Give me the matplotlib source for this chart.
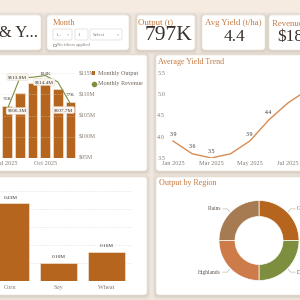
import matplotlib.pyplot as plt
from matplotlib.patches import FancyBboxPatch, Rectangle

plt.rcParams['font.family'] = ['Liberation Serif', 'DejaVu Serif']

# data
months = ['Jul 2025', 'Aug 2025', 'Sep 2025', 'Oct 2025', 'Nov 2025', 'Dec 2025']
output_k = [71, 89, 103, 104, 95, 77]
revenue_m = [106.3, 113.8, 114.0, 114.4, 112.9, 107.7]

yield_months = ['Jan 2025', 'Feb 2025', 'Mar 2025', 'Apr 2025', 'May 2025', 'Jun 2025', 'Jul 2025', 'Aug 2025']
avg_yield = [3.9, 3.6, 3.5, 3.6, 3.9, 4.4, 4.8, 5.1]
yield_labelled = [0, 1, 2, 4, 5]

crops = ['Corn', 'Soy', 'Wheat']
crop_output_m = [0.43, 0.10, 0.16]

regions = ['Coastal', 'Delta', 'Highlands', 'Plains']
region_share = [25, 25, 25, 25]

ORANGE = '#b5651d'
GREEN = '#7d8f3f'
ACCENT = '#c67a40'
GREY = '#857a72'
DARK = '#3a322e'

W = H = 300
fig = plt.figure(figsize=(3, 3), dpi=100)
fig.patch.set_facecolor('#eee7df')


def px_axes(x, y, w, h):
    return fig.add_axes([x / W, 1 - (y + h) / H, w / W, h / H])


bg = px_axes(0, 0, 300, 300)
bg.set_xlim(0, 300)
bg.set_ylim(300, 0)
bg.axis('off')
bg.add_patch(Rectangle((0, 0), 300, 12, color='#f6ebe0', lw=0))


def card(x, y, w, h):
    for i, a in enumerate([0.10, 0.07, 0.05]):
        p = 1 + i * 1.3
        bg.add_patch(FancyBboxPatch((x - p + 0.5, y - p + 1.5), w + 2 * p - 1, h + 2 * p - 1,
                                    boxstyle='round,pad=0,rounding_size=4',
                                    fc='#7a6550', ec='none', alpha=a))
    bg.add_patch(FancyBboxPatch((x, y), w, h, boxstyle='round,pad=0,rounding_size=3',
                                fc='white', ec='#efe6dc', lw=0.5))


for c in [(-10, 15, 51, 35), (47, 15, 82, 35), (137, 15, 58, 35), (202, 15, 63, 35),
          (269, 15, 45, 35), (-10, 55, 157, 116), (156, 55, 150, 116),
          (-10, 177, 157, 118), (156, 177, 150, 118)]:
    card(*c)

# KPI row
bg.text(38, 33, 'Harvest & Y...', ha='right', va='center', fontsize=12, color=DARK)

bg.text(53, 23, 'Month', fontsize=6, color=ACCENT, va='center')
for bx, bw, label, chevron in [(53, 19, '1...', True), (75, 13, '1', False), (90, 32, 'Select', True)]:
    bg.add_patch(FancyBboxPatch((bx, 29), bw, 11, boxstyle='round,pad=0,rounding_size=1.5',
                                fc='white', ec='#e2dbd4', lw=0.5))
    bg.text(bx + 3, 34.5, label, fontsize=3.5, color=GREY, va='center')
    if chevron:
        bg.text(bx + bw - 4, 34.5, 'v', fontsize=3.5, color='#b0a79f', va='center', ha='center')
bg.add_patch(Rectangle((53, 43.5), 2.5, 2.5, fc='white', ec=GREY, lw=0.4))
bg.text(57, 45, 'No filters applied', fontsize=3.3, color=GREY, va='center')

bg.text(138, 23, 'Output (t)', fontsize=6.3, color=ACCENT, va='center')
bg.text(145, 36, '797K', fontsize=15.5, color=DARK, va='center')
bg.text(205, 23, 'Avg Yield (t/ha)', fontsize=6.3, color=ACCENT, va='center')
bg.text(235, 37, '4.4', fontsize=12.5, color=DARK, va='center', ha='center')
bg.text(272, 23, 'Revenue ($)', fontsize=6.3, color=ACCENT, va='center')
bg.text(277, 37, '$18.2M', fontsize=12.5, color=DARK, va='center')

# monthly output and revenue
ax1 = px_axes(-12, 73, 88, 85)
x = range(len(months))
ax1.bar(x, output_k, width=0.75, color=ORANGE, edgecolor='#f4e4d4', lw=0.5, zorder=2)
ax1.set_xlim(-1.5, 5.43)
ax1.set_ylim(0, 117)
ax1.set_xticks([0, 3])
ax1.set_xticklabels([months[0], months[3]])
ax1.tick_params(axis='x', length=0, labelsize=4.5, labelcolor=GREY, pad=2)
ax1.set_yticks([])
ax2 = ax1.twinx()
ax2.plot(x, revenue_m, color=GREEN, lw=0.8, zorder=3)
ax2.set_ylim(95, 115)
ax2.set_yticks([95, 100, 105, 110, 115])
ax2.set_yticklabels(['$%dM' % v for v in [95, 100, 105, 110, 115]])
ax2.tick_params(axis='y', length=0, labelsize=4.2, labelcolor=GREY, pad=2)
ax2.grid(axis='y', ls=':', color='#e6ddd4', lw=0.4)
for ax in (ax1, ax2):
    ax.patch.set_alpha(0)
    for s in ax.spines.values():
        s.set_visible(False)

for i, dy in [(0, 7), (3, 8), (5, 7)]:
    ax1.annotate('%dK' % output_k[i], (i, output_k[i]), xytext=(0, dy * 0.72),
                 textcoords='offset points', ha='center', va='center', fontsize=3.8, color=DARK)
box = dict(boxstyle='round,pad=0.25', fc='#fbf6f0', ec='#e8dccf', lw=0.4)
for i, dx, dy in [(0, 10, 1), (1, -2, -1), (3, -1, 6.5), (5, -7, 6)]:
    ax2.annotate('$%.1fM' % revenue_m[i], (i, revenue_m[i]), xytext=(dx * 0.72, -dy * 0.72),
                 textcoords='offset points', ha='center', va='center', fontsize=3.8,
                 color=DARK, bbox=box, zorder=5)

bg.add_patch(Rectangle((92, 71.3), 3.4, 3.4, color=ORANGE, lw=0))
bg.text(97.5, 73, 'Monthly Output', fontsize=4.4, color='#6d625a', va='center')
bg.plot([93.7], [84], 'o', ms=3, color=GREEN)
bg.text(97.5, 84, 'Monthly Revenue', fontsize=4.4, color='#6d625a', va='center')

# average yield trend
bg.text(158, 62, 'Average Yield Trend', fontsize=5.8, color=ACCENT, va='center')
ay = px_axes(168, 73, 149, 85)
ay.patch.set_alpha(0)
ay.plot(range(len(avg_yield)), avg_yield, color='#d98c52', lw=1)
ay.set_xlim(-0.26, 7.5)
ay.set_ylim(3.5, 5.5)
ay.set_yticks([3.5, 4.0, 4.5, 5.0, 5.5])
ay.set_yticklabels(['3.5', '4.0', '4.5', '5.0', '5.5'])
ay.set_xticks([0, 2, 4, 6])
ay.set_xticklabels([yield_months[i] for i in [0, 2, 4, 6]])
ay.tick_params(length=0, labelsize=4.5, labelcolor=GREY, pad=2)
for s in ay.spines.values():
    s.set_visible(False)
for i in yield_labelled:
    ay.annotate('%.1f' % avg_yield[i], (i, avg_yield[i]), xytext=(0, 5),
                textcoords='offset points', ha='center', va='center', fontsize=4.2, color=DARK)

# output by crop
ac = px_axes(-13.5, 190.5, 144, 90.5)
ac.patch.set_alpha(0)
ac.bar(range(3), crop_output_m, width=0.77, color=ORANGE, edgecolor='#f4e4d4', lw=0.5, zorder=2)
ac.set_xlim(-0.5, 2.5)
ac.set_ylim(0, 0.5)
ac.set_yticks([0, 0.1, 0.2, 0.3, 0.4, 0.5])
ac.set_yticklabels([])
ac.grid(axis='y', ls=':', color='#dcd3ca', lw=0.5)
ac.set_xticks(range(3))
ac.set_xticklabels(crops)
ac.tick_params(length=0, labelsize=4.5, labelcolor=GREY, pad=3)
for s in ac.spines.values():
    s.set_visible(False)
for i, v in enumerate(crop_output_m):
    ac.annotate('%.2fM' % v, (i, v), xytext=(0, 4), textcoords='offset points',
                ha='center', va='center', fontsize=3.8, color=DARK)

# output by region
bg.text(159, 183, 'Output by Region', fontsize=5.8, color=ACCENT, va='center')
ad = px_axes(219, 200.5, 80, 80)
ad.pie(region_share, colors=[ORANGE, GREEN, '#cd7b48', '#a77b52'], startangle=90,
       counterclock=False, radius=1, wedgeprops=dict(width=0.4, edgecolor='white', lw=0.5))
ad.set_xlim(-1, 1)
ad.set_ylim(-1, 1)
for name, (lx, ly), sx in [('Coastal', (0.71, 0.71), 1), ('Delta', (0.71, -0.71), 1),
                           ('Highlands', (-0.71, -0.71), -1), ('Plains', (-0.71, 0.71), -1)]:
    ex = lx + sx * 0.12
    ey = ly + (0.08 if ly > 0 else -0.08)
    ad.plot([lx + sx * 0.02, lx + sx * 0.08, ex + sx * 0.08], [ly, ey, ey],
            color='#b7aca2', lw=0.4, clip_on=False)
    ad.text(ex + sx * 0.12, ey, name, ha='left' if sx > 0 else 'right', va='center',
            fontsize=4, color='#5e544d', clip_on=False)

fig.savefig('out.png', dpi=100, facecolor=fig.get_facecolor())
